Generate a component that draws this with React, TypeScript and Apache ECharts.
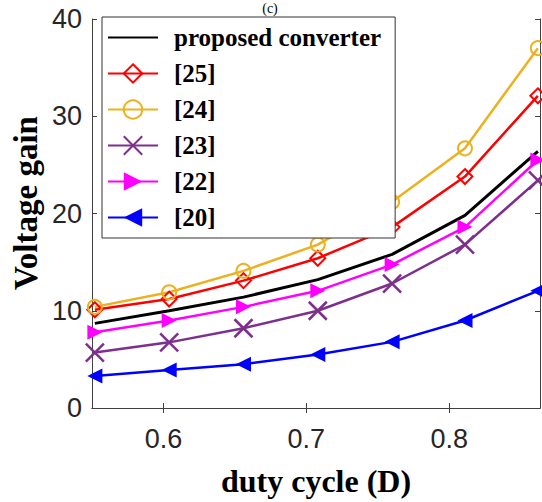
import React, { useEffect, useRef } from "react";
import * as echarts from "echarts";

const xValues = [0.552, 0.604, 0.656, 0.708, 0.76, 0.811, 0.862];
const seriesNames = ["proposed converter", "[25]", "[24]", "[23]", "[22]", "[20]"];
const proposed = [8.7, 10.0, 11.4, 13.2, 15.8, 19.8, 26.4];
const ref25 = [10.1, 11.2, 13.1, 15.4, 18.6, 23.8, 32.1];
const ref24 = [10.4, 11.9, 14.1, 16.8, 21.2, 26.7, 37.0];
const ref23 = [5.7, 6.75, 8.2, 10.0, 12.8, 16.8, 23.4];
const ref22 = [7.8, 9.0, 10.4, 12.05, 14.75, 18.6, 25.5];
const ref20 = [3.3, 3.9, 4.5, 5.5, 6.8, 9.0, 12.05];
const xTicks = [0.6, 0.7, 0.8];
const xTitle = "duty cycle (D)";
const yTitle = "Voltage gain";
const panelTitle = "(c)";

const SERIF = "'Liberation Serif', 'Times New Roman', serif";
const SANS = "'Liberation Sans', Arial, sans-serif";
const AXIS_COLOR = "#404040";

const pairs = (ys: number[]) => ys.map((y, i) => [xValues[i], y]);

export default function App() {
  const ref = useRef<HTMLDivElement>(null);
  useEffect(() => {
    if (!ref.current) return;
    const chart = echarts.init(ref.current, null, { renderer: "svg" });
    const hollow = (c: string) => ({ color: "rgba(255,255,255,0)", borderColor: c, borderWidth: 2 });
    const mk = (name: string, data: number[], c: string, symbol: string, size: number, itemStyle: any, width = 2.5) => ({
      name,
      type: "line",
      data: pairs(data),
      color: c,
      symbol,
      symbolSize: size,
      showSymbol: symbol !== "none",
      itemStyle,
      lineStyle: { color: c, width },
      z: 3,
    });
    const xBase = {
      type: "value",
      min: 0.55,
      max: 0.8635,
      splitLine: { show: false },
      axisLine: { show: true, lineStyle: { color: AXIS_COLOR, width: 1 } },
      axisTick: { show: true, inside: true, length: 5, customValues: xTicks, lineStyle: { color: AXIS_COLOR } },
    };
    const yBase = {
      type: "value",
      min: 0,
      max: 40,
      interval: 10,
      splitLine: { show: false },
      axisLine: { show: true, lineStyle: { color: AXIS_COLOR, width: 1 } },
      axisTick: { show: true, inside: true, length: 5, lineStyle: { color: AXIS_COLOR } },
    };
    chart.setOption({
      animation: false,
      backgroundColor: "#ffffff",
      grid: { left: 92, right: 2, top: 19, bottom: 88, containLabel: false },
      xAxis: [
        {
          ...xBase,
          position: "bottom",
          axisLabel: {
            customValues: xTicks,
            fontSize: 27,
            fontFamily: SANS,
            color: "#262626",
            margin: 17,
            formatter: (v: number) => v.toFixed(1),
          },
          name: xTitle,
          nameLocation: "middle",
          nameGap: 57,
          nameTextStyle: { fontSize: 32, fontWeight: "bold", fontFamily: SERIF, color: "#000" },
        },
        { ...xBase, position: "top", axisLabel: { show: false } },
      ],
      yAxis: [
        {
          ...yBase,
          position: "left",
          axisLabel: { fontSize: 27, fontFamily: SANS, color: "#262626", margin: 10 },
        },
        { ...yBase, position: "right", axisLabel: { show: false } },
      ],
      legend: {
        left: 102,
        top: 17,
        orient: "vertical",
        backgroundColor: "#ffffff",
        borderColor: "#333",
        borderWidth: 1,
        borderRadius: 0,
        padding: [8, 14, 8, 5],
        itemWidth: 50,
        itemHeight: 23,
        itemGap: 11,
        textStyle: {
          fontSize: 25,
          lineHeight: 24,
          fontWeight: "bold",
          fontFamily: SERIF,
          color: "#000",
          padding: [0, 0, 0, 11],
        },
        data: [
          { name: seriesNames[0], itemStyle: { color: "rgba(0,0,0,0)", borderWidth: 0, opacity: 0 } },
          ...seriesNames.slice(1),
        ],
      },
      graphic: [
        {
          type: "text",
          x: 26,
          y: 203,
          rotation: Math.PI / 2,
          style: {
            text: yTitle,
            fontSize: 33,
            fontWeight: "bold",
            fontFamily: SERIF,
            fill: "#000",
            textAlign: "center",
            textVerticalAlign: "middle",
          },
        },
        {
          type: "text",
          x: 270,
          y: 1,
          style: {
            text: panelTitle,
            fontSize: 14,
            fontFamily: SERIF,
            fill: "#000",
            textAlign: "center",
            textVerticalAlign: "top",
          },
        },
      ],
      series: [
        mk(seriesNames[0], proposed, "#000000", "none", 0, { color: "#000000" }, 3),
        mk(seriesNames[1], ref25, "#ff0000", "diamond", 15, hollow("#ff0000")),
        mk(seriesNames[2], ref24, "#edb120", "circle", 14, hollow("#edb120")),
        mk(seriesNames[3], ref23, "#7e2f8e", "path://M0 0L10 10M10 0L0 10", 18, {
          color: "rgba(255,255,255,0)",
          borderColor: "#7e2f8e",
          borderWidth: 2.5,
        }),
        mk(seriesNames[4], ref22, "#ff00ff", "path://M0 0L10 5L0 10Z", 15, { color: "#ff00ff" }),
        mk(seriesNames[5], ref20, "#0000ff", "path://M10 0L0 5L10 10Z", 15, { color: "#0000ff" }),
      ],
    });
    return () => chart.dispose();
  }, []);
  return (
    <div
      ref={ref}
      style={{ position: "fixed", left: 0, top: 0, width: 542, height: 502, background: "#fff" }}
    />
  );
}
